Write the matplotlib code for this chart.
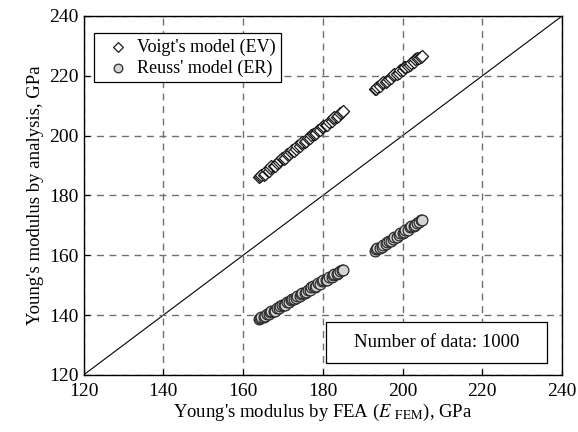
import matplotlib

matplotlib.use("Agg")
import matplotlib.pyplot as plt
from matplotlib.patches import Rectangle

plt.rcParams["font.family"] = ["Liberation Serif", "DejaVu Serif"]
plt.rcParams["mathtext.fontset"] = "stix"

# FEA 計算值(兩群)與兩種理論模型的預測值
x_fem_a = [164.0, 164.3, 164.6, 165.2, 165.5, 165.9, 166.5, 166.8, 167.1, 167.8, 168.1,
           168.4, 169.0, 169.3, 169.7, 170.3, 170.6, 171.0, 171.6, 171.9, 172.3, 172.9,
           173.2, 173.6, 174.2, 174.5, 174.9, 175.5, 175.8, 176.2, 176.8, 177.1, 177.5,
           178.1, 178.4, 178.8, 179.4, 179.7, 180.1, 180.8, 181.1, 181.5, 182.2, 182.5,
           182.9, 183.6, 183.9, 184.3, 184.7, 185.0]
voigt_a = [186.2, 186.6, 186.9, 187.0, 187.3, 188.4, 188.3, 189.3, 189.7, 189.8, 190.0,
           191.0, 191.1, 192.0, 192.4, 192.3, 192.6, 193.8, 193.7, 194.7, 195.1, 195.0,
           195.4, 196.4, 196.5, 197.4, 197.8, 197.8, 198.1, 199.2, 199.1, 200.2, 200.5,
           200.6, 200.8, 201.9, 201.9, 202.9, 203.2, 203.4, 203.7, 204.7, 204.9, 205.8,
           206.1, 206.3, 206.6, 207.6, 208.0, 208.2]
reuss_a = [138.6, 139.0, 139.3, 139.3, 139.6, 140.4, 140.3, 141.0, 141.3, 141.4, 141.5,
           142.4, 142.3, 143.1, 143.4, 143.3, 143.5, 144.4, 144.3, 145.1, 145.5, 145.4,
           145.6, 146.5, 146.4, 147.2, 147.5, 147.4, 147.6, 148.5, 148.4, 149.3, 149.6,
           149.5, 149.7, 150.6, 150.5, 151.3, 151.6, 151.6, 151.8, 152.7, 152.7, 153.5,
           153.8, 153.9, 154.0, 154.9, 155.2, 155.0]

x_fem_b = [193.0, 193.4, 193.7, 194.4, 194.8, 195.1, 195.8, 196.2, 196.5, 197.2, 197.6,
           197.9, 198.6, 199.0, 199.3, 200.0, 200.4, 200.7, 201.4, 201.8, 202.1, 202.8,
           203.2, 203.5, 204.2, 204.5, 204.8]
voigt_b = [215.5, 215.7, 216.4, 216.6, 217.5, 217.8, 218.0, 218.3, 219.1, 219.3, 220.2,
           220.5, 220.6, 221.0, 221.8, 222.0, 222.9, 223.1, 223.3, 223.7, 224.4, 224.6,
           225.5, 225.8, 225.9, 226.2, 226.7]
reuss_b = [161.5, 162.0, 162.3, 162.5, 162.9, 163.6, 163.7, 164.5, 164.8, 164.9, 165.3,
           166.1, 166.2, 166.9, 167.3, 167.4, 167.7, 168.5, 168.6, 169.4, 169.7, 169.8,
           170.2, 170.9, 171.0, 171.7, 171.8]

ticks = [120, 140, 160, 180, 200, 220, 240]
n_data = 1000

fig = plt.figure(figsize=(5.78, 4.32), dpi=100)
ax = fig.add_axes([0.1445, 0.132, 0.828, 0.831])

ax.plot([120, 240], [120, 240], color="black", linewidth=0.8, zorder=1)

ax.scatter(x_fem_a + x_fem_b, voigt_a + voigt_b, marker="D", s=38, facecolor="white",
           edgecolor="#1a1a1a", linewidth=0.9, label="Voigt's model (EV)", zorder=3)
ax.scatter(x_fem_a + x_fem_b, reuss_a + reuss_b, marker="o", s=60, facecolor="#d4d4d4",
           edgecolor="#2a2a2a", linewidth=0.9, label="Reuss' model (ER)", zorder=3)

ax.set_xlim(120, 240)
ax.set_ylim(120, 240)
ax.set_xticks(ticks)
ax.set_yticks(ticks)
ax.tick_params(direction="in", length=4, labelsize=14, top=False, right=False)
ax.tick_params(axis="x", pad=6)
ax.grid(True, linestyle=(0, (5, 4)), color="#707070", linewidth=1.0, zorder=0)
for s in ax.spines.values():
    s.set_linewidth(1.0)

ax.set_xlabel(r"Young's modulus by FEA ($E$ $_{\rm FEM}$), GPa", fontsize=13.5, labelpad=1)
ax.set_ylabel("Young's modulus by analysis, GPa", fontsize=13.5, labelpad=4)

leg = ax.legend(loc="upper left", bbox_to_anchor=(0.022, 0.953), borderaxespad=0,
                fancybox=False, edgecolor="black", framealpha=1, fontsize=13,
                handletextpad=0.1, borderpad=0.3, labelspacing=0.2, markerscale=0.8)
leg.get_frame().set_linewidth(0.9)

ax.add_patch(Rectangle((0.507, 0.033), 0.462, 0.115, transform=ax.transAxes,
                       facecolor="white", edgecolor="black", linewidth=0.9, zorder=4))
ax.text(0.738, 0.0905, f"Number of data: {n_data}", transform=ax.transAxes,
        ha="center", va="center", fontsize=13.5, zorder=5)

fig.savefig("out.png", dpi=100)
